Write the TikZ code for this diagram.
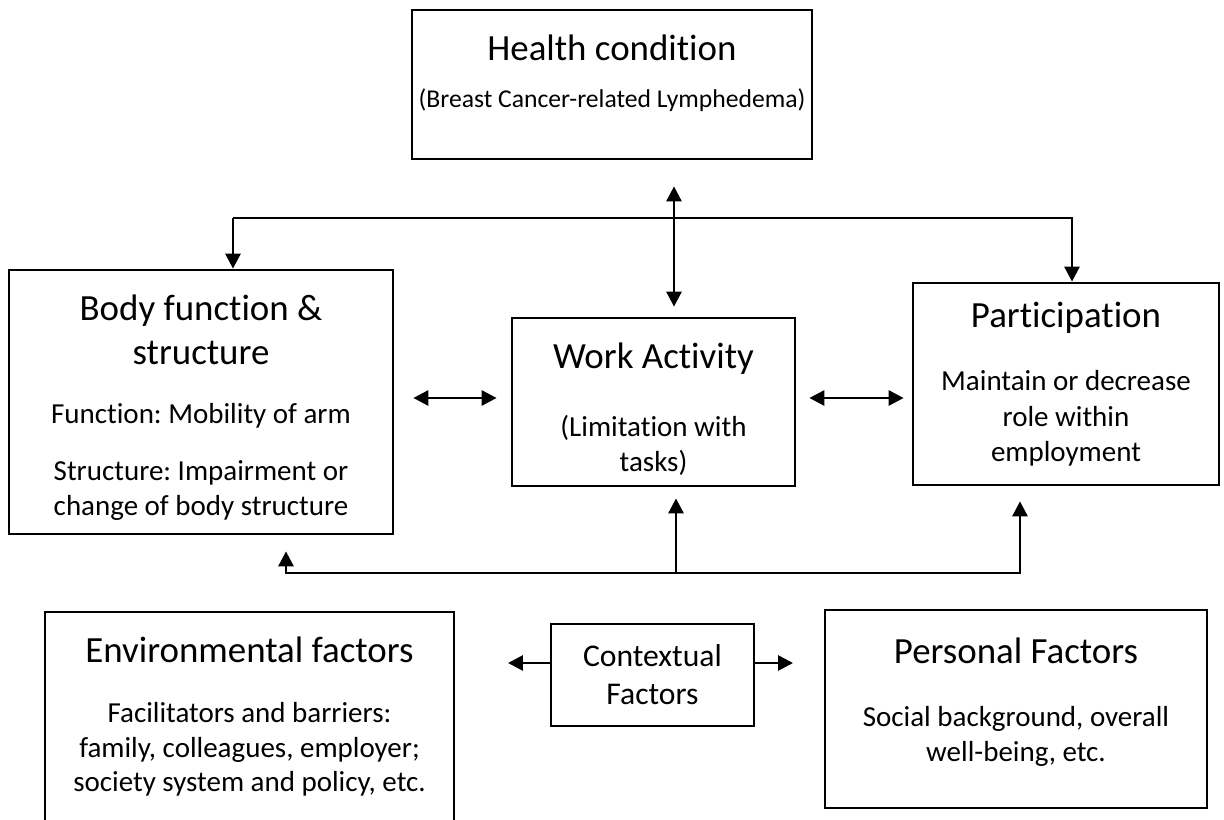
\documentclass[tikz,border=0pt]{standalone}
\usepackage{fontspec}
\setmainfont{Carlito}[Ligatures=NoCommon]
\frenchspacing
\usetikzlibrary{arrows.meta, positioning}

\newcommand{\boxhead}{\fontsize{21}{24.4}\selectfont}
\newcommand{\boxbody}{\fontsize{16.5}{19.8}\selectfont}

\begin{document}
\begin{tikzpicture}[x=0.02cm, y=-0.02cm,
  box/.style={draw, line width=1.6pt, align=center, inner sep=2pt, font=\boxbody},
  link/.style={line width=1.6pt},
  >={Triangle[length=8.5pt, width=8.5pt]}]

\useasboundingbox (0,0) rectangle (1224,820);

% Health condition
\node[box, minimum width=8cm, minimum height=2.98cm] (health) at (612,84.5)
  {\boxhead Health condition\\[7pt]\fontsize{14.6}{19}\selectfont (Breast Cancer-related Lymphedema)\\[-5pt]\mbox{}};

% Middle row
\node[box, minimum width=7.68cm, minimum height=5.28cm] (body) at (201,402)
  {\mbox{}\\[1pt]\boxhead Body function \&\\[5pt] \boxhead structure\\[14pt] Function: Mobility of arm\\[12.5pt]
   Structure: Impairment or\\ change of body structure};
\node[box, minimum width=5.66cm, minimum height=3.36cm] (work) at (653.5,402)
  {\mbox{}\\[3pt]\boxhead Work Activity\\[19pt] (Limitation with\\ tasks)};
\node[box, minimum width=6.12cm, minimum height=4.04cm] (part) at (1066,384)
  {\boxhead Participation\\[16pt] Maintain or decrease\\[1pt] role within\\ employment};

% Bottom row
\node[box, minimum width=8.18cm, minimum height=4.2cm] (env) at (249.5,717)
  {\boxhead Environmental factors\\[14pt] Facilitators and barriers:\\
   family, colleagues, employer;\\ society system and policy, etc.};
\node[box, minimum width=4.06cm, minimum height=2.04cm, font=\fontsize{18}{21.5}\selectfont] (ctx) at (652.5,675)
  {Contextual\\ Factors};
\node[box, minimum width=7.64cm, minimum height=3.96cm] (pers) at (1016,709)
  {\boxhead Personal Factors\\[16pt] Social background, overall\\ well-being, etc.\\[-9pt]\mbox{}};

% Top loop
\coordinate (tl) at (233,218);
\coordinate (tr) at (1072,218);
\draw[link, ->] (tl) -- (tr) -- (tr |- part.north);
\draw[link, ->] (tl) -- (tl |- body.north);

% Health <-> work
\coordinate (xc) at (674,0);
\draw[link, <->, shorten <=0.52cm, shorten >=0.2cm] (health.south -| xc) -- (work.north -| xc);

% Side arrows
\coordinate (yc) at (0,398);
\draw[link, <->, shorten <=0.38cm, shorten >=0.28cm] (body.east |- yc) -- (work.west |- yc);
\draw[link, <->, shorten <=0.26cm, shorten >=0.16cm] (work.east |- yc) -- (part.west |- yc);

% Bottom loop
\coordinate (bl) at (286,573);
\coordinate (bm) at (676,573);
\coordinate (br) at (1020,573);
\draw[link, <->, shorten <=0.32cm, shorten >=0.3cm] (body.south -| bl) -- (bl) -- (br) -- (part.south -| br);
\draw[link, ->, shorten >=0.22cm] (bm) -- (work.south -| bm);

% Contextual arrows
\coordinate (cl) at (508,663);
\coordinate (cr) at (793,663);
\draw[link, ->] (ctx.west |- cl) -- (cl);
\draw[link, ->] (ctx.east |- cr) -- (cr);
\end{tikzpicture}
\end{document}
